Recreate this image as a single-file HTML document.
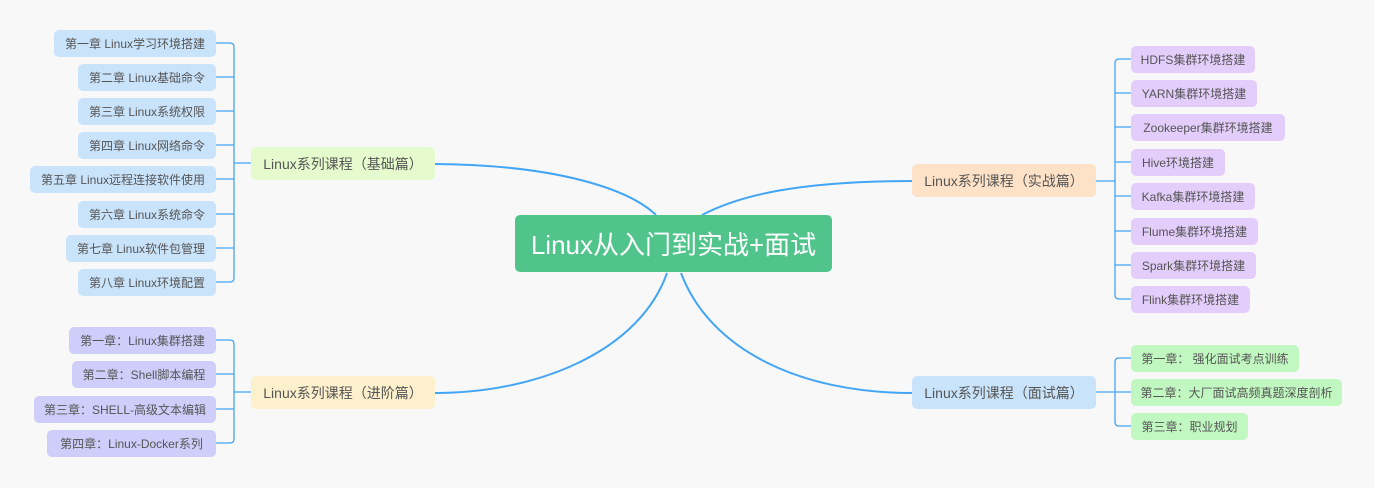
<!DOCTYPE html>
<html><head><meta charset="utf-8"><style>
body{margin:0;width:1374px;height:488px;background:#f8f8f8;position:relative;overflow:hidden;font-family:"Liberation Sans","Noto Sans CJK SC",sans-serif;}
.b{position:absolute;box-sizing:border-box;border-radius:5px;color:#555;font-size:12px;display:flex;align-items:center;justify-content:center;white-space:nowrap;}
.l{height:27px;}
.p{height:33px;font-size:14px;}
.bl{background:#c9e3fb;}
.pu{background:#cfcdf9;}
.vi{background:#e3cdfb;}
.gr{background:#c1f7c0;}
svg{position:absolute;left:0;top:0;}
</style></head><body>
<svg width="1374" height="488" fill="none" stroke="#42a5f5" stroke-width="2">
<path d="M435,164 C560,165 630,190 656,215"/>
<path d="M702,215 C740,195 800,181 912,181"/>
<path d="M667,273 C640,350 540,393 435,393"/>
<path d="M681,273 C710,350 800,393 912,393"/>
<g stroke-width="1.3">
<path d="M251,163 H234 M216,43 H230 Q234,43 234,47 V278 Q234,282 230,282 H216"/>
<path d="M216,77H234 M216,111H234 M216,145H234 M216,179H234 M216,214H234 M216,248H234"/>
<path d="M251,392 H234 M216,340 H230 Q234,340 234,344 V439 Q234,443 230,443 H216 M216,374H234 M216,409H234"/>
<path d="M1096,181 H1115 M1131,59 H1119 Q1115,59 1115,63 V295 Q1115,299 1119,299 H1131 M1115,93H1131 M1115,127H1131 M1115,162H1131 M1115,196H1131 M1115,231H1131 M1115,265H1131"/>
<path d="M1096,392 H1131 M1131,358 H1119 Q1115,358 1115,362 V422 Q1115,426 1119,426 H1131"/>
</g>
</svg>
<div class="b" style="left:515px;top:215px;width:317px;height:57px;background:#51c48c;color:#fff;font-size:26px;">Linux从入门到实战+面试</div>

<div class="b p" style="left:251px;top:147px;width:184px;background:#e6fbcd;">Linux系列课程（基础篇）</div>
<div class="b l bl" style="left:54px;top:30px;width:162px;">第一章 Linux学习环境搭建</div>
<div class="b l bl" style="left:78px;top:64px;width:138px;">第二章 Linux基础命令</div>
<div class="b l bl" style="left:78px;top:98px;width:138px;">第三章 Linux系统权限</div>
<div class="b l bl" style="left:78px;top:132px;width:138px;">第四章 Linux网络命令</div>
<div class="b l bl" style="left:30px;top:166px;width:186px;">第五章 Linux远程连接软件使用</div>
<div class="b l bl" style="left:78px;top:201px;width:138px;">第六章 Linux系统命令</div>
<div class="b l bl" style="left:66px;top:235px;width:150px;">第七章 Linux软件包管理</div>
<div class="b l bl" style="left:78px;top:269px;width:138px;">第八章 Linux环境配置</div>

<div class="b p" style="left:251px;top:376px;width:184px;background:#fdf0cc;">Linux系列课程（进阶篇）</div>
<div class="b l pu" style="left:69px;top:327px;width:147px;">第一章：Linux集群搭建</div>
<div class="b l pu" style="left:72px;top:361px;width:144px;">第二章：Shell脚本编程</div>
<div class="b l pu" style="left:34px;top:396px;width:182px;">第三章：SHELL-高级文本编辑</div>
<div class="b l pu" style="left:47px;top:430px;width:169px;">第四章：Linux-Docker系列</div>

<div class="b p" style="left:912px;top:164px;width:184px;background:#fde2c7;">Linux系列课程（实战篇）</div>
<div class="b l vi" style="left:1131px;top:46px;width:124px;">HDFS集群环境搭建</div>
<div class="b l vi" style="left:1131px;top:80px;width:126px;">YARN集群环境搭建</div>
<div class="b l vi" style="left:1131px;top:114px;width:154px;">Zookeeper集群环境搭建</div>
<div class="b l vi" style="left:1131px;top:149px;width:94px;">Hive环境搭建</div>
<div class="b l vi" style="left:1131px;top:183px;width:124px;">Kafka集群环境搭建</div>
<div class="b l vi" style="left:1131px;top:218px;width:127px;">Flume集群环境搭建</div>
<div class="b l vi" style="left:1131px;top:252px;width:125px;">Spark集群环境搭建</div>
<div class="b l vi" style="left:1131px;top:286px;width:119px;">Flink集群环境搭建</div>

<div class="b p" style="left:912px;top:376px;width:184px;background:#c9e3fb;">Linux系列课程（面试篇）</div>
<div class="b l gr" style="left:1131px;top:345px;width:168px;">第一章：&nbsp;强化面试考点训练</div>
<div class="b l gr" style="left:1131px;top:379px;width:211px;">第二章：大厂面试高频真题深度剖析</div>
<div class="b l gr" style="left:1131px;top:413px;width:117px;">第三章：职业规划</div>
</body></html>
